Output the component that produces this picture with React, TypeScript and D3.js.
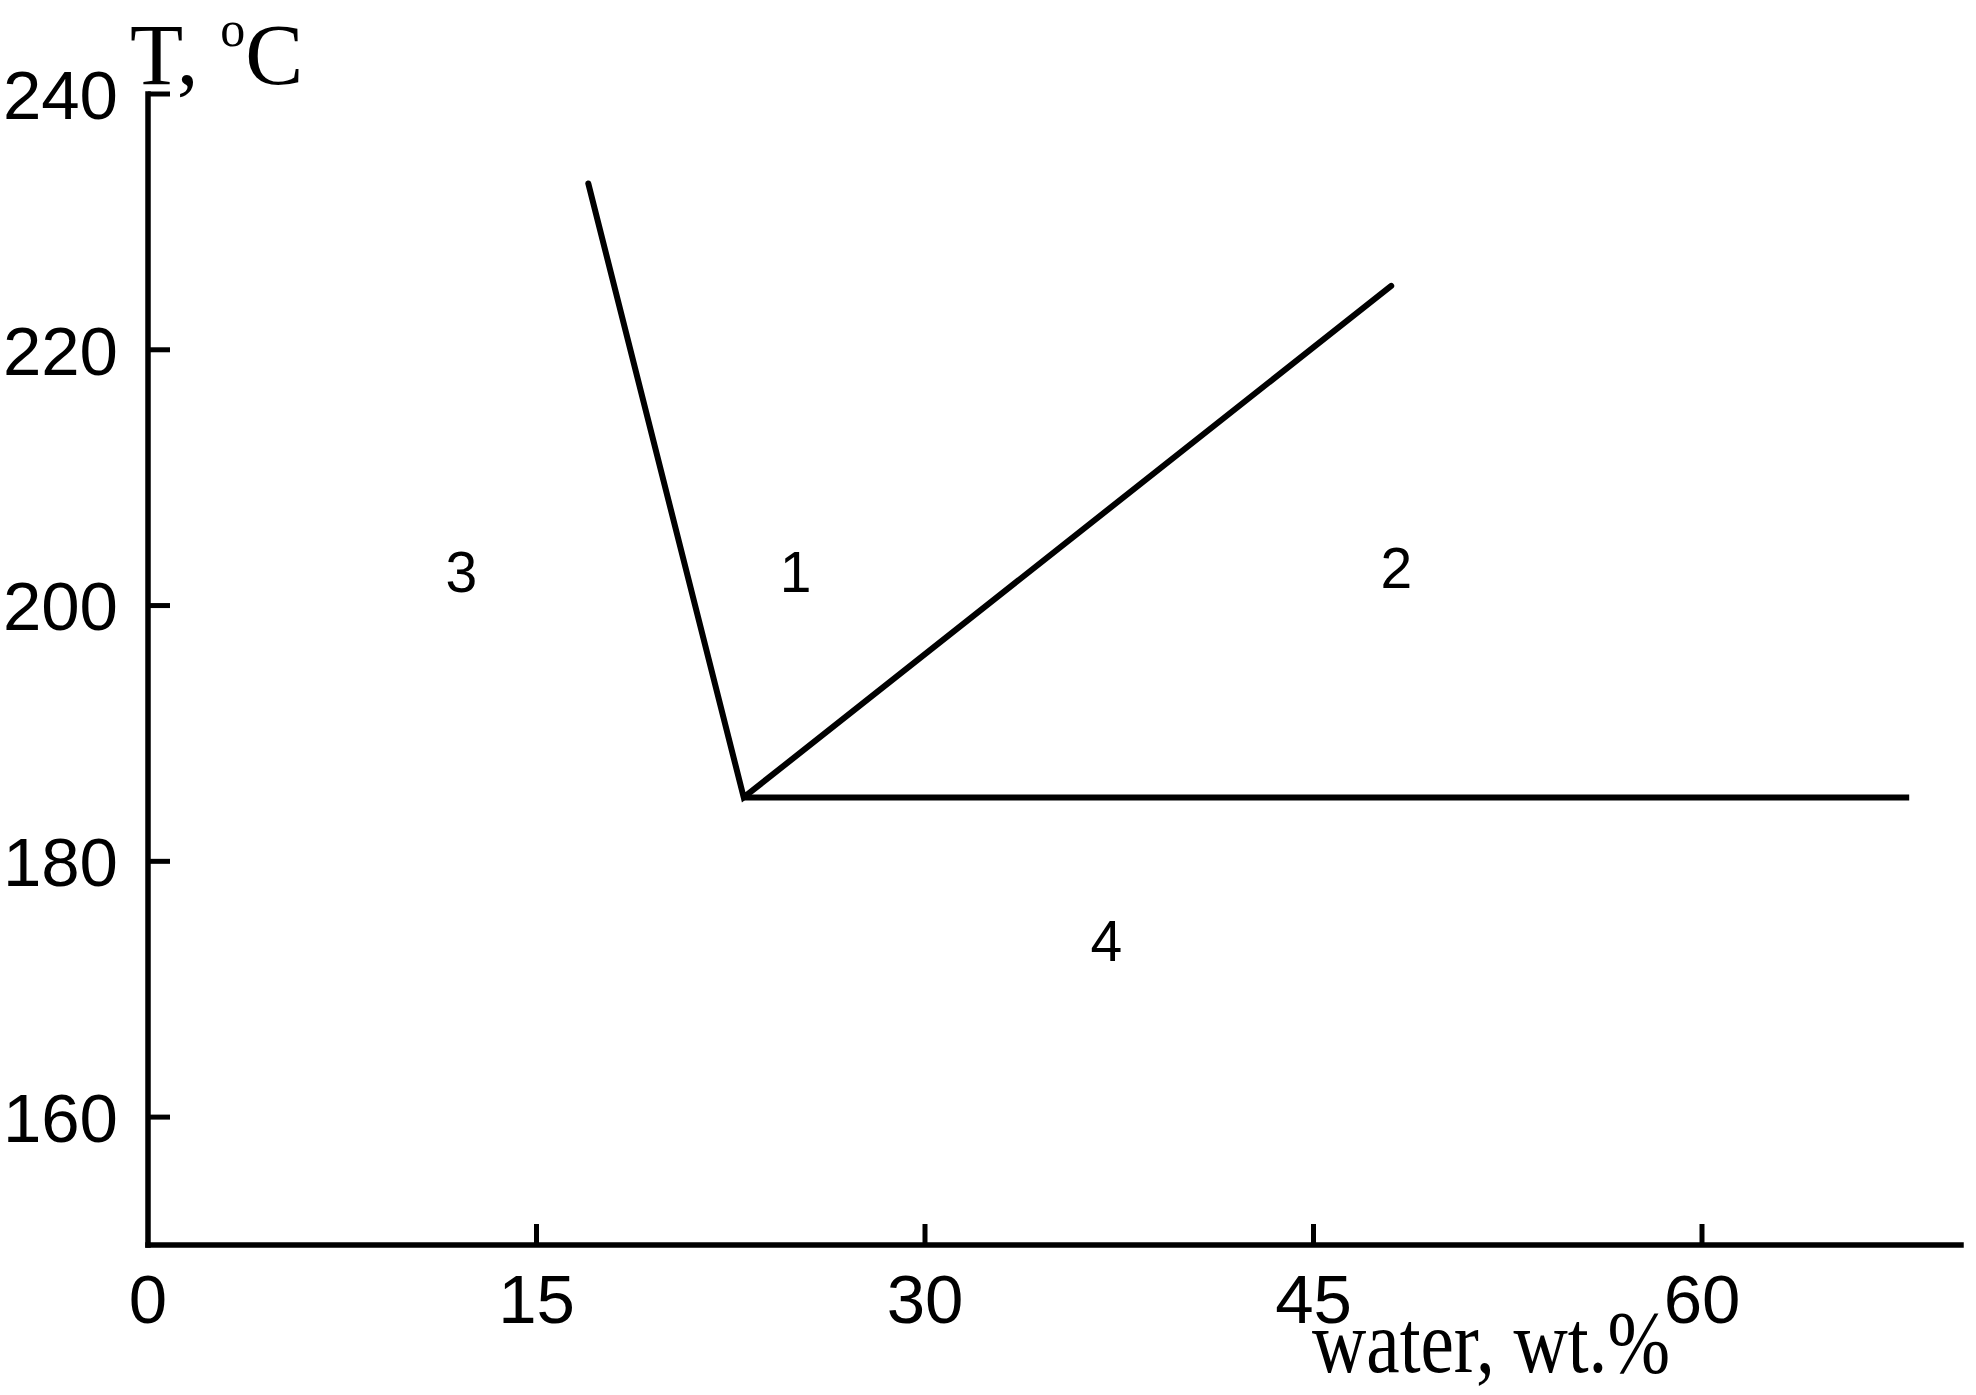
import React from "react";
import * as d3 from "d3";

// ---- data ----
const xDomain = [0, 70];
const yDomain = [150, 240];
const xTicks = [0, 15, 30, 45, 60];
const yTicks = [160, 180, 200, 220, 240];

// phase boundaries (water wt.%, T °C)
const boundaryV = [
  { x: 17, t: 233 },
  { x: 23, t: 185 },
  { x: 48, t: 225 },
];
const boundaryHorizontal = [
  { x: 23, t: 185 },
  { x: 68, t: 185 },
];

// region labels
const regionNames = ["3", "1", "2", "4"];
const regionX = [12.1, 25.0, 48.2, 37.0];
const regionT = [202.7, 202.7, 203.0, 173.8];

const yTitle = "T, ";
const yTitleSup = "o";
const yTitleEnd = "C";
const xTitle = "water, wt.%";

const W = 1976;
const H = 1395;

export default function App() {
  const x = d3.scaleLinear().domain(xDomain).range([148, 1961]);
  const y = d3.scaleLinear().domain(yDomain).range([1245, 94]);
  const line = d3
    .line<{ x: number; t: number }>()
    .x((d) => x(d.x))
    .y((d) => y(d.t));

  const sans = "'Liberation Sans', Arial, sans-serif";
  const serif = "'Liberation Serif', 'Times New Roman', serif";

  return (
    <svg
      width={W}
      height={H}
      viewBox={`0 0 ${W} ${H}`}
      style={{ position: "absolute", left: 0, top: 0, background: "#fff" }}
    >
      <rect x={0} y={0} width={W} height={H} fill="#fff" />
      {/* axes */}
      <line
        x1={x(xDomain[0])}
        x2={x(xDomain[0])}
        y1={y(yDomain[1])}
        y2={y(yDomain[0])}
        stroke="#000"
        strokeWidth={5.5}
        strokeLinecap="square"
      />
      <line
        x1={x(xDomain[0])}
        x2={x(xDomain[1])}
        y1={y(yDomain[0])}
        y2={y(yDomain[0])}
        stroke="#000"
        strokeWidth={5.5}
        strokeLinecap="square"
      />
      {yTicks.map((v) => (
        <g key={"y" + v}>
          <line
            x1={x(xDomain[0])}
            x2={x(xDomain[0]) + 22}
            y1={y(v)}
            y2={y(v)}
            stroke="#000"
            strokeWidth={5}
          />
          <text
            x={118}
            y={y(v)}
            dy="0.36em"
            textAnchor="end"
            fontFamily={sans}
            fontSize={69}
            fill="#000"
          >
            {v}
          </text>
        </g>
      ))}
      {xTicks.map((v) => (
        <g key={"x" + v}>
          {v !== xDomain[0] && (
            <line
              x1={x(v)}
              x2={x(v)}
              y1={y(yDomain[0])}
              y2={y(yDomain[0]) - 21}
              stroke="#000"
              strokeWidth={5}
            />
          )}
          <text
            x={x(v)}
            y={1323}
            textAnchor="middle"
            fontFamily={sans}
            fontSize={69}
            fill="#000"
          >
            {v}
          </text>
        </g>
      ))}
      {/* boundaries */}
      <path
        d={line(boundaryV) || ""}
        fill="none"
        stroke="#000"
        strokeWidth={6}
        strokeLinecap="round"
        strokeLinejoin="miter"
      />
      <path
        d={line(boundaryHorizontal) || ""}
        fill="none"
        stroke="#000"
        strokeWidth={6}
        strokeLinecap="butt"
      />
      {/* region labels */}
      {regionNames.map((n, i) => (
        <text
          key={"r" + n}
          x={x(regionX[i])}
          y={y(regionT[i])}
          dy="0.36em"
          textAnchor="middle"
          fontFamily={sans}
          fontSize={57}
          fill="#000"
        >
          {n}
        </text>
      ))}
      {/* titles */}
      <text x={130} y={84} fontFamily={serif} fontSize={87} fill="#000">
        {yTitle}
        <tspan fontSize={50} dy={-38}>
          {yTitleSup}
        </tspan>
        <tspan dy={38}>{yTitleEnd}</tspan>
      </text>
      <text
        x={1312}
        y={1372}
        fontFamily={serif}
        fontSize={89}
        fill="#000"
        textLength={358}
        lengthAdjust="spacingAndGlyphs"
      >
        {xTitle}
      </text>
    </svg>
  );
}
